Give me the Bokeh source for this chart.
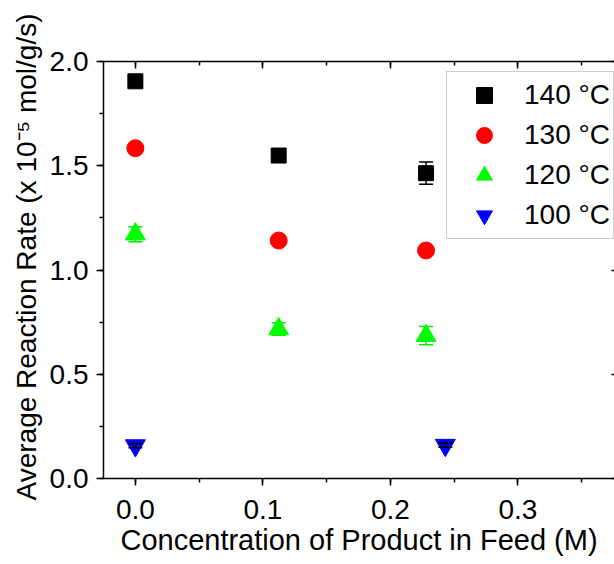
from bokeh.plotting import figure
from bokeh.models import (ColumnDataSource, Whisker, TeeHead, Legend, LegendItem,
                          LinearAxis, SingleIntervalTicker, Range1d, Title,
                          NumeralTickFormatter, CustomLabelingPolicy)
from bokeh.embed import file_html
from bokeh.resources import INLINE

# ---- data ----
labels = ["140 °C", "130 °C", "120 °C", "100 °C"]
x_140 = [0.0, 0.1124, 0.228]
y_140 = [1.905, 1.549, 1.4645]
e_140 = [0.01, 0.012, 0.053]

x_130 = [0.0, 0.1124, 0.228]
y_130 = [1.584, 1.1415, 1.0935]
e_130 = [0.01, 0.01, 0.01]

x_120 = [0.0, 0.1124, 0.228]
y_120 = [1.172, 0.717, 0.685]
e_120 = [0.036, 0.03, 0.044]

x_100 = [0.0, 0.2431]
y_100 = [0.158, 0.160]
e_100 = [0.01, 0.01]

x_title = "Concentration of Product in Feed (M)"
y_title = "Average Reaction Rate (x 10⁻⁵ mol/g/s)"

FONT = "Liberation Sans"

p = figure(width=614, height=564, output_backend="svg", toolbar_location=None,
           x_range=Range1d(-0.025, 0.3758), y_range=Range1d(0.0, 2.0),
           min_border_left=103, min_border_top=61, min_border_bottom=86,
           min_border_right=0)
p.outline_line_color = None
p.grid.visible = False
p.background_fill_color = "white"
p.border_fill_color = "white"

# main axes
p.xaxis.ticker = SingleIntervalTicker(interval=0.1, num_minor_ticks=2)
p.yaxis.ticker = SingleIntervalTicker(interval=0.5, num_minor_ticks=2)
p.xaxis.formatter = NumeralTickFormatter(format="0.0")
p.yaxis.formatter = NumeralTickFormatter(format="0.0")
for ax in (p.xaxis[0], p.yaxis[0]):
    ax.axis_line_width = 1.5
    ax.axis_line_color = "black"
    ax.major_tick_line_width = 1.5
    ax.minor_tick_line_width = 1.5
    ax.major_tick_out = 7
    ax.major_tick_in = 0
    ax.minor_tick_out = 4
    ax.minor_tick_in = 0
    ax.major_label_text_font = FONT
    ax.major_label_text_font_size = "28px"
    ax.major_label_text_color = "black"
    ax.axis_label_text_font = FONT
    ax.axis_label_text_font_size = "29px"
    ax.axis_label_text_font_style = "normal"
    ax.axis_label_text_color = "black"
p.xaxis.axis_label = x_title
p.xaxis.major_label_standoff = 14
p.yaxis.major_label_standoff = 8
p.xaxis.axis_label_standoff = 2

# y-axis title as a left-side title so that it can be shifted along the axis
yt = Title(text=y_title, align="left", offset=-22, text_font=FONT,
           text_font_size="28px", text_font_style="normal", text_color="black",
           standoff=10)
p.add_layout(yt, "left")

def hidden_labels():
    return CustomLabelingPolicy(code="""
for (const i of indices) { indices.unset(i) }
return indices
""")

# top axis with inward ticks
top = LinearAxis(ticker=SingleIntervalTicker(interval=0.1, num_minor_ticks=2))
top.axis_line_width = 1.5
top.major_tick_line_width = 1.5
top.minor_tick_line_width = 1.5
top.major_tick_in = 7
top.major_tick_out = 0
top.minor_tick_in = 4
top.minor_tick_out = 0
top.major_label_policy = hidden_labels()
top.major_label_text_font_size = "0px"
top.major_label_standoff = 0
top.axis_label_standoff = 0
p.add_layout(top, "above")

# right axis: only short inward stubs visible at the edge
right = LinearAxis(ticker=SingleIntervalTicker(interval=0.5, num_minor_ticks=0))
right.axis_line_color = None
right.major_tick_line_width = 1.5
right.major_tick_in = 3
right.major_tick_out = 0
right.minor_tick_line_color = None
right.major_label_policy = hidden_labels()
right.major_label_text_font_size = "0px"
right.major_label_standoff = 0
right.axis_label_standoff = 0
p.add_layout(right, "right")

def add_err(x, y, e, color, level):
    src = ColumnDataSource(dict(x=x, lo=[a - b for a, b in zip(y, e)],
                                hi=[a + b for a, b in zip(y, e)]))
    w = Whisker(base="x", lower="lo", upper="hi", source=src, dimension="height",
                line_color=color, line_width=1.5, level=level,
                upper_head=TeeHead(size=14, line_color=color, line_width=1.5),
                lower_head=TeeHead(size=14, line_color=color, line_width=1.5))
    p.add_layout(w)

add_err(x_140, y_140, e_140, "black", "underlay")
add_err(x_130, y_130, e_130, "red", "underlay")
add_err(x_120, y_120, e_120, "#00ee00", "underlay")

r140 = p.scatter(x_140, y_140, marker="square", size=15, fill_color="black", line_color="black")
r130 = p.scatter(x_130, y_130, marker="circle", size=17, fill_color="#ff0000", line_color="#ff0000")
r120 = p.scatter(x_120, y_120, marker="triangle", size=20, fill_color="#00ff00", line_color="#00ff00")
r100 = p.scatter(x_100, y_100, marker="inverted_triangle", size=20, fill_color="#0000ff", line_color="#0000ff")

add_err(x_100, y_100, e_100, "black", "annotation")

legend = Legend(items=[LegendItem(label=labels[0], renderers=[r140]),
                       LegendItem(label=labels[1], renderers=[r130]),
                       LegendItem(label=labels[2], renderers=[r120]),
                       LegendItem(label=labels[3], renderers=[r100])],
                location=(343, 239))
legend.label_text_font = FONT
legend.label_text_font_size = "28px"
legend.label_text_color = "black"
legend.glyph_width = 68
legend.glyph_height = 40
legend.label_height = 40
legend.spacing = 0
legend.padding = 3
legend.margin = 0
legend.label_standoff = 6
legend.border_line_color = "#999999"
legend.border_line_width = 1.5
legend.background_fill_color = "white"
legend.background_fill_alpha = 1.0
p.add_layout(legend)

open("out.html", "w").write(file_html(p, INLINE))
